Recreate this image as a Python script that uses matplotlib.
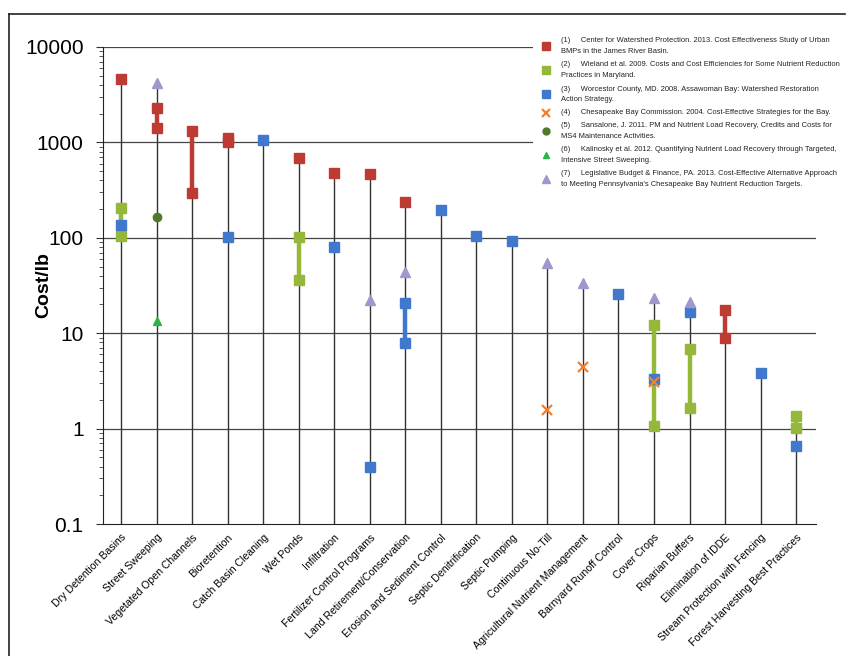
import matplotlib
matplotlib.use("Agg")
import matplotlib.pyplot as plt
from matplotlib.lines import Line2D
from matplotlib.patches import Rectangle
from matplotlib import font_manager
import numpy as np

# ---------------- data ----------------
categories = ["Dry Detention Basins", "Street Sweeping", "Vegetated Open Channels",
              "Bioretention", "Catch Basin Cleaning", "Wet Ponds", "Infiltration",
              "Fertilizer Control Programs", "Land Retirement/Conservation",
              "Erosion and Sediment Control", "Septic Denitrification", "Septic Pumping",
              "Continuous No-Till", "Agricultural Nutrient Management",
              "Barnyard Runoff Control", "Cover Crops", "Riparian Buffers",
              "Elimination of IDDE", "Stream Protection with Fencing",
              "Forest Harvesting Best Practices"]

# values per source: {category index: [values]}
src1_cwp = {0: [4600], 1: [1420, 2300], 2: [295, 1320], 3: [1000, 1100], 5: [690],
            6: [480], 7: [465], 8: [237], 17: [8.9, 17.5]}
src2_wieland = {0: [105, 205], 5: [36, 102], 15: [1.07, 12.2], 16: [1.64, 6.8],
                19: [1.01, 1.36]}
src3_worcester = {0: [136], 3: [102], 4: [1050], 6: [80], 7: [0.40], 8: [7.9, 20.8],
                  9: [195], 10: [105], 11: [92], 14: [26], 15: [3.3], 16: [16.7],
                  18: [3.83], 19: [0.66]}
src4_cbc = {12: [1.57], 13: [4.4], 15: [3.1]}
src5_sansalone = {1: [165]}
src6_kalinosky = {1: [13.4]}
src7_lbfc = {1: [4200], 7: [22.3], 8: [44], 12: [54], 13: [33.6], 15: [23.4], 16: [21]}

legend_labels = [
    "(1)     Center for Watershed Protection. 2013. Cost Effectiveness Study of Urban\nBMPs in the James River Basin.",
    "(2)     Wieland et al. 2009. Costs and Cost Efficiencies for Some Nutrient Reduction\nPractices in Maryland.",
    "(3)     Worcestor County, MD. 2008. Assawoman Bay: Watershed Restoration\nAction Strategy.",
    "(4)     Chesapeake Bay Commission. 2004. Cost-Effective Strategies for the Bay.",
    "(5)     Sansalone, J. 2011. PM and Nutrient Load Recovery, Credits and Costs for\nMS4 Maintenance Activities.",
    "(6)     Kalinosky et al. 2012. Quantifying Nutrient Load Recovery through Targeted,\nIntensive Street Sweeping.",
    "(7)     Legislative Budget & Finance, PA. 2013. Cost-Effective Alternative Approach\nto Meeting Pennsylvania's Chesapeake Bay Nutrient Reduction Targets.",
]
ytick_vals = [0.1, 1, 10, 100, 1000, 10000]
ytick_labels = ["0.1", "1", "10", "100", "1000", "10000"]

# ---------------- style ----------------
avail = {f.name for f in font_manager.fontManager.ttflist}
narrow = "Liberation Sans Narrow" if "Liberation Sans Narrow" in avail else "Liberation Sans"
plt.rcParams['font.family'] = ['Liberation Sans', 'DejaVu Sans']

sources = [
    (src1_cwp, dict(marker='s', color='#BE3B33', ms=7)),
    (src2_wieland, dict(marker='s', color='#95B83A', ms=7)),
    (src3_worcester, dict(marker='s', color='#3F78CC', ms=7)),
    (src4_cbc, dict(marker='x', color='#F08030', ms=7, mew=1.6)),
    (src5_sansalone, dict(marker='o', color='#4F7A2C', ms=6)),
    (src6_kalinosky, dict(marker='^', color='#2DB34A', ms=6)),
    (src7_lbfc, dict(marker='^', color='#A097CC', ms=7)),
]

W, H = 854, 656
fig = plt.figure(figsize=(W / 100, H / 100), dpi=100)
fig.patch.set_facecolor('white')
ax = fig.add_axes([103 / W, 1 - 524 / H, (816 - 103) / W, (524 - 47) / H])

ax.set_yscale('log')
ax.set_ylim(0.1, 10000)
ax.set_xlim(-0.51, 19.56)

# gridlines
for v in [1, 10, 100, 1000, 10000]:
    ax.axhline(v, color='#444444', lw=0.9, zorder=1)

# stems
x = np.arange(len(categories))
tops = []
for i in range(len(categories)):
    vals = []
    for d, _ in sources:
        vals += d.get(i, [])
    tops.append(max(vals))
ax.vlines(x, 0.1, tops, color='#333333', lw=1.0, zorder=3)

# range bars and markers
for d, style in sources:
    for i, vals in d.items():
        if len(vals) > 1:
            ax.plot([i, i], [min(vals), max(vals)], color=style['color'], lw=3.2,
                    solid_capstyle='butt', zorder=4)
for d, style in sources:
    for i, vals in d.items():
        st = dict(style)
        ax.plot([i] * len(vals), vals, linestyle='none', marker=st.pop('marker'),
                color=st.pop('color'), markersize=st.pop('ms'), zorder=5, **st)

# axes styling
for s in ['top', 'right']:
    ax.spines[s].set_visible(False)
ax.spines['left'].set_color('#222222')
ax.spines['bottom'].set_color('#222222')
ax.set_yticks(ytick_vals)
ax.set_yticklabels(ytick_labels, fontsize=15)
ax.yaxis.set_minor_locator(matplotlib.ticker.LogLocator(base=10, subs=np.arange(2, 10)))
ax.yaxis.set_minor_formatter(matplotlib.ticker.NullFormatter())
ax.tick_params(axis='y', which='major', length=5, width=0.8, pad=9, color='#333333')
ax.tick_params(axis='y', which='minor', length=3, width=0.7, color='#555555')
ax.set_xticks(x)
ax.set_xticklabels(categories, rotation=45, ha='right', rotation_mode='anchor',
                   fontsize=7.6)
ax.tick_params(axis='x', length=0, pad=6)
ax.set_ylabel("Cost/lb", fontsize=14, fontweight='bold')
ax.yaxis.set_label_coords(-0.071, 0.5)

# legend (white panel)
ax.add_patch(Rectangle((533 / W, 1 - 197 / H), (W - 533) / W, (197 - 30) / H,
                       transform=fig.transFigure, facecolor='white', edgecolor='none',
                       clip_on=False, zorder=2))
line0 = 40
pitch = 12.1
start_lines = [0, 2, 4, 6, 7, 9, 11]
for k, (lab, (d, style)) in enumerate(zip(legend_labels, sources)):
    nlines = lab.count("\n") + 1
    yc = line0 + pitch * (start_lines[k] + (nlines - 1) / 2)
    st = dict(style)
    ax.add_line(Line2D([546 / W], [1 - yc / H], transform=fig.transFigure,
                       marker=st.pop('marker'), color=st.pop('color'),
                       markersize=st.pop('ms') - 1, linestyle='none', clip_on=False,
                       zorder=6, **st))
    ax.text(561 / W, 1 - yc / H, lab, transform=fig.transFigure, ha='left', va='center',
            fontsize=5.4, family=[narrow, 'DejaVu Sans'], linespacing=1.75,
            color='#222222', zorder=6)

# outer frame (left and top)
fig.add_artist(Line2D([9 / W, 9 / W], [0, 1 - 14 / H], color='#222222', lw=1.2))
fig.add_artist(Line2D([9 / W, 845 / W], [1 - 14 / H, 1 - 14 / H], color='#222222', lw=1.2))

fig.savefig("out.png", dpi=100, facecolor='white')
